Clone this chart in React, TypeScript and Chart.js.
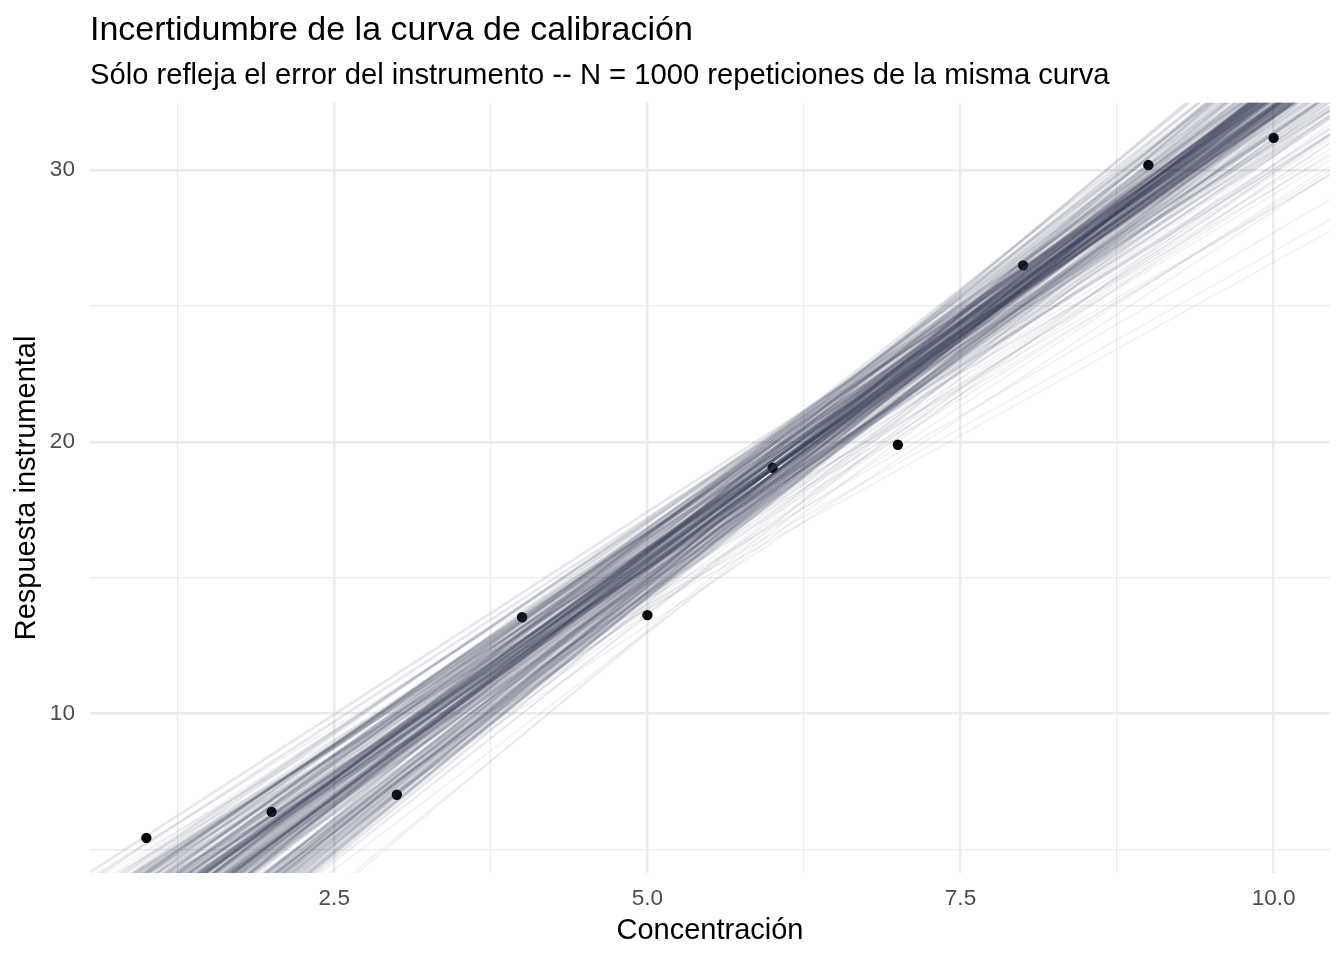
import React, { useEffect, useRef } from "react";
import { Chart, registerables } from "chart.js";

Chart.register(...registerables);

// ---- data ----
const concentration = [1, 2, 3, 4, 5, 6, 7, 8, 9, 10];
const response = [5.42, 6.38, 7.01, 13.54, 13.62, 19.04, 19.89, 26.49, 30.18, 31.18];

// simulated calibration lines: response at concentration 6 and slope
const lineAt6 = [
  19.0, 19.7, 18.3, 19.3, 18.7, 20.1, 18.0, 19.4, 19.0, 18.5,
  19.9, 18.7, 19.3, 20.3, 17.9, 19.1, 19.5, 18.4, 19.7, 19.2,
  18.8, 20.2, 18.3, 19.0, 19.5, 17.8, 19.3, 19.0, 18.5, 19.9,
  19.6, 18.7, 20.4, 18.1, 19.2, 18.8, 19.7, 18.4, 20.0, 18.8,
  19.0, 19.6, 18.2, 19.3, 17.9, 19.9, 19.0, 18.7, 19.5, 20.2,
  18.5, 19.1, 19.0, 18.1, 19.7, 19.3, 18.8, 20.3, 19.0, 18.4,
  19.5, 19.0, 18.5, 20.0, 19.1, 18.0, 19.6, 19.0, 18.6, 19.4,
  20.1, 18.5, 19.3, 18.8, 18.2, 19.7, 18.8, 20.2, 19.1, 19.4,
  18.4, 19.3, 17.9, 19.0, 19.7, 18.7, 19.1, 20.1, 18.2, 19.0,
  19.5, 18.8, 19.9, 18.5, 19.1, 19.0, 18.3, 19.6, 18.8, 19.3,
  19.1, 18.1, 20.0, 18.8, 19.4, 18.6, 19.0, 19.8, 18.0, 19.3,
  18.8, 19.9, 19.0, 18.5, 19.6, 19.1, 18.2, 20.1, 18.8, 19.3,
  19.0, 18.6, 19.5, 17.8, 19.9, 19.0, 18.5, 19.3, 20.2, 18.8,
  19.6, 18.3, 19.1, 19.0, 18.7, 19.8, 18.1, 19.4, 19.1, 18.8,
  20.0, 19.0, 18.4, 19.3, 18.8, 19.7, 18.6, 19.1, 18.2, 19.0,
];
const lineSlope = [
  3.36, 3.10, 3.62, 3.42, 3.22, 3.54, 3.72, 3.30, 3.00, 3.46,
  3.26, 3.80, 3.35, 3.16, 3.60, 2.95, 3.40, 3.68, 3.28, 3.50,
  3.14, 3.40, 3.84, 3.33, 3.06, 3.60, 3.30, 3.76, 3.45, 3.20,
  3.70, 3.36, 2.98, 3.48, 3.24, 3.90, 3.34, 3.10, 3.56, 3.38,
  2.92, 3.64, 3.32, 3.17, 3.50, 3.78, 3.27, 3.43, 3.04, 3.61,
  3.35, 3.22, 3.73, 3.46, 3.13, 3.40, 3.95, 3.29, 3.54, 3.03,
  3.44, 3.25, 3.67, 3.34, 3.08, 3.58, 3.37, 3.82, 3.19, 3.48,
  3.32, 2.88, 3.63, 3.40, 3.24, 3.75, 3.35, 3.11, 3.51, 3.38,
  3.66, 3.20, 3.47, 3.31, 3.87, 3.34, 3.05, 3.57, 3.28, 3.45,
  3.23, 3.71, 3.36, 3.15, 3.53, 3.41, 2.97, 3.61, 3.33, 3.46,
  3.29, 3.77, 3.18, 3.44, 3.37, 3.65, 3.26, 3.12, 3.50, 3.35,
  3.56, 3.27, 3.41, 3.83, 3.20, 3.47, 3.69, 3.07, 3.39, 3.32,
  3.45, 3.63, 3.16, 3.74, 3.35, 3.24, 3.54, 3.40, 3.00, 3.48,
  3.33, 3.68, 3.21, 3.43, 3.60, 3.13, 3.79, 3.36, 3.28, 3.51,
  3.18, 3.46, 3.64, 3.31, 3.40, 3.06, 3.57, 3.38, 3.72, 3.34,
];
// sparse outlying lines (mostly below the main band)
const tailAt6 = [
  16.4, 16.9, 17.3, 17.8, 18.1, 17.5, 16.7, 17.2, 17.9, 18.3,
  16.3, 17.0, 18.0, 17.6, 18.4, 16.6, 17.4, 18.2, 16.9, 17.7,
  18.5, 17.1, 16.5, 18.0, 17.8, 19.5, 19.9, 19.2, 17.6, 18.2,
  17.0, 18.6, 17.4, 18.3, 16.8, 17.9, 18.1, 17.3, 18.4, 17.7,
];
const tailSlope = [
  2.55, 2.70, 2.85, 3.00, 2.95, 3.10, 3.75, 3.60, 3.15, 2.80,
  3.05, 3.30, 3.25, 2.75, 3.05, 2.60, 3.45, 3.10, 3.85, 2.90,
  2.70, 3.20, 3.50, 2.65, 3.55, 2.85, 3.00, 2.95, 3.35, 3.40,
  3.15, 3.20, 3.05, 3.50, 3.00, 2.80, 3.30, 3.65, 2.90, 3.25,
];

const xLimits = [0.55, 10.45];
const yLimits = [4.13, 32.47];
const xGridValues = [1.25, 2.5, 3.75, 5, 6.25, 7.5, 8.75, 10];
const xMajorValues = [2.5, 5, 7.5, 10];
const xTickLabels = ["2.5", "5.0", "7.5", "10.0"];
const yGridValues = [5, 10, 15, 20, 25, 30];
const yMajorValues = [10, 20, 30];
const yTickLabels = ["10", "20", "30"];

const titleText = "Incertidumbre de la curva de calibración";
const subtitleText = "Sólo refleja el error del instrumento -- N = 1000 repeticiones de la misma curva";
const xTitle = "Concentración";
const yTitle = "Respuesta instrumental";

const FONT = "'Liberation Sans', Arial, Helvetica, sans-serif";
const LINE_RGB = "52, 60, 84";

function lineDataset(at6: number, slope: number, alpha: number, width: number) {
  return {
    type: "line" as const,
    data: xLimits.map((x) => ({ x, y: at6 + slope * (x - 6) })),
    borderColor: `rgba(${LINE_RGB}, ${alpha})`,
    borderWidth: width,
    pointRadius: 0,
    fill: false,
    clip: 0,
    order: 0,
  };
}

export default function App() {
  const canvasRef = useRef<HTMLCanvasElement | null>(null);

  useEffect(() => {
    document.body.style.margin = "0";
    const canvas = canvasRef.current;
    if (!canvas) return;

    const datasets: any[] = [];
    lineAt6.forEach((v, i) => datasets.push(lineDataset(v, lineSlope[i], 0.12, 2.6)));
    tailAt6.forEach((v, i) => datasets.push(lineDataset(v, tailSlope[i], 0.07, 1.6)));
    datasets.push({
      type: "scatter",
      data: concentration.map((x, i) => ({ x, y: response[i] })),
      backgroundColor: "#000000",
      borderColor: "#000000",
      borderWidth: 0,
      pointRadius: 5.2,
      order: 10,
    });

    const chart = new Chart(canvas, {
      type: "scatter",
      data: { datasets },
      options: {
        animation: false,
        responsive: false,
        events: [],
        layout: { padding: { left: 0, right: 14, top: 0, bottom: 0 } },
        plugins: {
          legend: { display: false },
          tooltip: { enabled: false },
          title: {
            display: true,
            text: titleText,
            align: "start",
            fullSize: false,
            color: "#000000",
            font: { family: FONT, size: 34, weight: "normal" },
            padding: { top: 10, bottom: 0 },
          },
          subtitle: {
            display: true,
            text: subtitleText,
            align: "start",
            fullSize: false,
            color: "#000000",
            font: { family: FONT, size: 29.2, weight: "normal" },
            padding: { top: 8, bottom: 9 },
          },
        },
        scales: {
          x: {
            type: "linear",
            min: xLimits[0],
            max: xLimits[1],
            afterBuildTicks: (s: any) => {
              s.ticks = xGridValues.map((value) => ({ value }));
            },
            afterFit: (s: any) => {
              s.height = 87;
            },
            border: { display: false },
            grid: {
              drawTicks: false,
              color: "#ebebeb",
              lineWidth: (ctx: any) =>
                ctx.tick && xMajorValues.includes(ctx.tick.value) ? 2.4 : 1.2,
            },
            ticks: {
              autoSkip: false,
              maxRotation: 0,
              padding: 12,
              color: "#4d4d4d",
              font: { family: FONT, size: 22.6 },
              callback: (value: any) => {
                const k = xMajorValues.indexOf(Number(value));
                return k >= 0 ? xTickLabels[k] : "";
              },
            },
            title: {
              display: true,
              text: xTitle,
              color: "#000000",
              font: { family: FONT, size: 29 },
              padding: { top: 0, bottom: 12 },
            },
          },
          y: {
            type: "linear",
            min: yLimits[0],
            max: yLimits[1],
            afterBuildTicks: (s: any) => {
              s.ticks = yGridValues.map((value) => ({ value }));
            },
            afterFit: (s: any) => {
              s.width = 90;
            },
            border: { display: false },
            grid: {
              drawTicks: false,
              color: "#ebebeb",
              lineWidth: (ctx: any) =>
                ctx.tick && yMajorValues.includes(ctx.tick.value) ? 2.4 : 1.2,
            },
            ticks: {
              autoSkip: false,
              padding: 15,
              color: "#4d4d4d",
              font: { family: FONT, size: 22.6 },
              callback: (value: any) => {
                const k = yMajorValues.indexOf(Number(value));
                return k >= 0 ? yTickLabels[k] : "";
              },
            },
            title: {
              display: true,
              text: yTitle,
              color: "#000000",
              font: { family: FONT, size: 29 },
              padding: { top: 10, bottom: 0 },
            },
          },
        },
      },
    } as any);

    return () => chart.destroy();
  }, []);

  return (
    <div style={{ width: 1344, height: 960, background: "#ffffff" }}>
      <canvas ref={canvasRef} width={1344} height={960} style={{ display: "block" }} />
    </div>
  );
}
